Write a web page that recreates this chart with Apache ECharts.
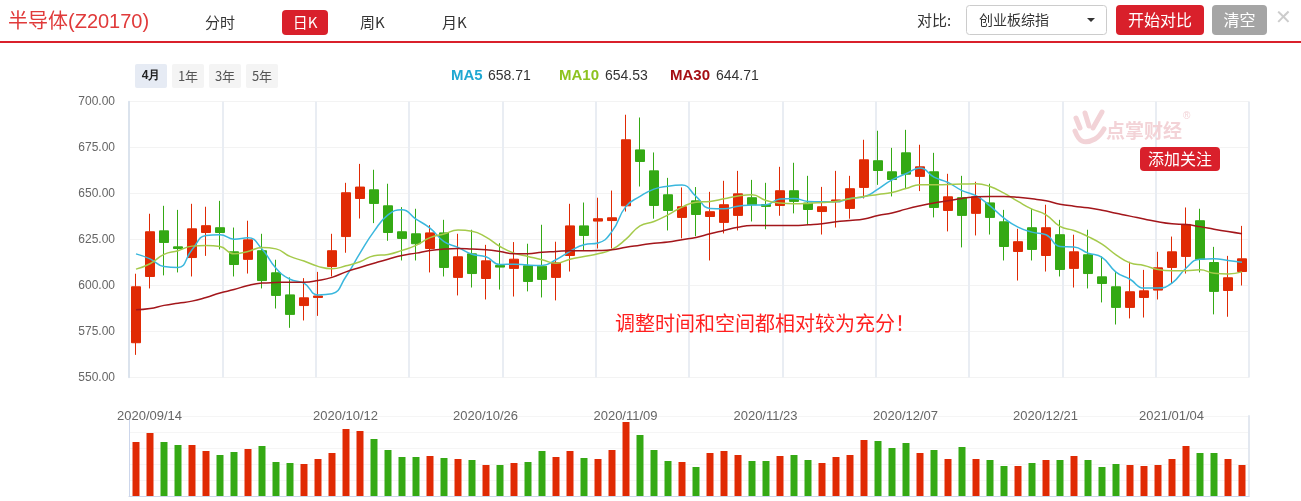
<!DOCTYPE html>
<html>
<head>
<meta charset="utf-8">
<title>半导体(Z20170) 日K</title>
<script src="https://cdn.jsdelivr.net/npm/echarts@6/dist/echarts.min.js"></script>
<style>
html, body { margin: 0; padding: 0; background: #fff; }
#chart { width: 1301px; height: 501px; }
</style>
</head>
<body>
<div id="chart"></div>
<script>
// trading days shown on the chart
const DATES = [
  '2020/09/14','2020/09/15','2020/09/16','2020/09/17','2020/09/18',
  '2020/09/21','2020/09/22','2020/09/23','2020/09/24','2020/09/25',
  '2020/09/28','2020/09/29','2020/09/30','2020/10/09',
  '2020/10/12','2020/10/13','2020/10/14','2020/10/15','2020/10/16',
  '2020/10/19','2020/10/20','2020/10/21','2020/10/22','2020/10/23',
  '2020/10/26','2020/10/27','2020/10/28','2020/10/29','2020/10/30',
  '2020/11/02','2020/11/03','2020/11/04','2020/11/05','2020/11/06',
  '2020/11/09','2020/11/10','2020/11/11','2020/11/12','2020/11/13',
  '2020/11/16','2020/11/17','2020/11/18','2020/11/19','2020/11/20',
  '2020/11/23','2020/11/24','2020/11/25','2020/11/26','2020/11/27',
  '2020/11/30','2020/12/01','2020/12/02','2020/12/03','2020/12/04',
  '2020/12/07','2020/12/08','2020/12/09','2020/12/10','2020/12/11',
  '2020/12/14','2020/12/15','2020/12/16','2020/12/17','2020/12/18',
  '2020/12/21','2020/12/22','2020/12/23','2020/12/24','2020/12/25',
  '2020/12/28','2020/12/29','2020/12/30','2020/12/31',
  '2021/01/04','2021/01/05','2021/01/06','2021/01/07','2021/01/08',
  '2021/01/11','2021/01/12'
];
const LABEL_DATES = ['2020/09/14','2020/10/12','2020/10/26','2020/11/09','2020/11/23','2020/12/07','2020/12/21','2021/01/04'];

// [open, close, low, high]
const KLINE = [
  [568.9,599.3,562.3,606.4],[604.9,629.2,598.4,639.0],[629.7,623.4,605.5,643.3],[621.0,620.1,607.1,641.1],
  [615.2,630.8,604.9,644.4],[628.8,632.5,616.1,642.8],[631.4,628.8,619.6,646.0],[618.3,611.4,604.9,631.5],
  [614.2,624.8,606.5,635.2],[618.9,602.7,598.4,628.1],[606.9,594.6,587.5,614.0],[594.9,584.3,577.0,604.4],
  [589.1,593.3,581.0,604.0],[593.5,594.3,583.5,607.4],[610.3,618.9,604.9,628.1],[626.6,650.4,617.8,655.8],
  [647.3,653.5,636.4,666.1],[652.0,644.6,633.9,662.9],[643.3,628.8,624.3,655.3],[629.2,625.6,613.6,642.6],
  [628.1,622.7,613.6,641.7],[620.1,628.6,607.1,632.8],[628.6,609.8,604.9,635.7],[604.4,615.6,594.6,628.1],
  [617.2,606.5,598.9,630.3],[603.8,613.4,592.4,622.1],[610.9,610.0,597.8,623.0],[609.3,614.3,594.0,623.6],
  [610.7,602.2,596.8,622.7],[610.5,603.3,593.5,633.0],[604.4,612.3,591.9,623.8],[616.3,632.4,607.6,644.4],
  [632.4,627.2,618.9,645.1],[635.0,636.3,620.1,647.7],[635.3,636.8,620.1,651.6],[643.3,679.2,640.2,692.8],
  [673.7,667.4,653.8,691.3],[662.3,643.5,636.3,672.3],[649.3,640.8,629.9,658.5],[637.0,642.8,625.6,653.3],
  [646.0,638.6,626.8,653.5],[637.5,640.1,613.6,650.9],[634.3,643.9,628.3,656.9],[638.1,649.8,629.9,662.3],
  [647.7,643.9,634.8,657.4],[644.0,643.0,630.6,655.8],[643.5,651.5,637.9,664.5],[651.5,645.7,639.2,666.7],
  [644.8,641.3,632.8,659.6],[640.2,642.8,627.7,653.6],[645.5,646.5,631.5,662.3],[641.9,652.6,636.3,659.6],
  [653.3,668.3,647.3,679.2],[667.8,662.5,654.7,684.1],[661.8,657.6,648.4,674.8],[672.1,660.5,652.4,684.6],
  [659.3,664.5,651.3,676.5],[661.8,642.4,637.0,672.1],[640.8,648.2,629.4,660.7],[647.7,638.1,620.7,659.6],
  [639.2,648.2,627.2,656.4],[644.9,637.0,627.7,655.3],[634.6,621.2,613.6,641.1],[618.5,623.8,602.7,630.8],
  [631.4,619.6,613.6,641.7],[616.3,631.4,607.6,643.9],[627.6,608.7,604.9,635.7],[609.3,618.3,598.9,627.6],
  [616.7,606.5,598.4,630.3],[604.7,601.1,590.8,615.8],[599.3,588.1,578.8,607.4],[588.1,596.6,582.1,612.9],
  [593.5,597.1,582.6,608.5],[597.5,609.6,592.4,618.3],[609.8,618.3,601.1,626.6],[615.8,633.2,606.5,642.4],
  [635.2,614.2,607.1,641.7],[612.5,596.8,584.3,621.0],[597.3,604.2,583.0,616.1],[607.6,614.5,600.0,632.4]
];

const VOLUME = [
  54,63,54,51,51,45,41,44,47,50, 34,33,32,37,43,67,65,57,46,39,
  39,40,38,37,36,31,31,33,34,45, 39,45,38,37,46,74,61,46,35,34,
  29,43,45,41,35,35,40,41,36,33, 39,41,56,55,48,53,43,46,37,49,
  37,36,30,30,33,36,36,40,36,29, 32,31,30,31,37,50,43,43,37,31
];

const MA5 = [
  617.2,614.5,610.3,609.8,619.4,627.2,627.6,625.2,625.9,619.8,
  609.4,603.4,601.3,594.9,595.5,604.9,617.6,629.4,638.4,641.2,
  636.1,631.2,623.9,620.7,617.0,615.6,611.4,611.6,611.1,610.9,
  614.0,618.5,622.2,623.1,629.4,643.0,648.4,652.4,654.0,654.6,
  648.4,641.9,641.7,643.1,643.7,643.9,647.0,647.3,645.7,645.5,
  645.5,647.3,648.2,652.4,657.4,660.7,663.8,658.9,656.0,651.6,
  648.8,643.3,636.6,631.7,629.0,627.6,621.2,620.9,617.6,615.3,
  607.3,603.4,598.6,598.6,601.3,609.4,614.3,614.5,613.6,612.7
];
const MA10 = [
  608.9,611.8,616.9,618.9,621.4,621.8,621.2,617.2,618.5,620.7,
  619.9,615.8,613.3,610.4,609.1,610.7,612.9,616.2,616.9,619.1,
  621.8,626.0,628.0,630.1,629.5,626.3,621.2,617.6,615.8,614.0,
  612.1,614.3,615.8,617.2,619.6,625.2,632.4,634.8,638.4,642.6,
  645.3,645.7,647.1,648.6,649.3,646.2,644.8,644.4,644.6,645.1,
  645.7,647.2,648.4,649.5,650.6,652.7,654.7,654.7,654.9,655.1,
  655.3,653.8,650.2,645.7,641.5,638.4,632.1,629.9,626.6,622.5,
  616.7,612.3,610.9,608.7,608.0,608.0,608.5,606.7,606.3,607.4
];
const MA30 = [
  586.8,587.5,589.2,590.4,591.5,593.5,595.9,597.8,600.0,601.3,
  601.6,601.8,601.8,602.7,604.4,607.4,609.8,612.1,614.3,616.3,
  617.6,619.0,619.8,620.1,619.8,619.4,618.5,617.3,617.3,618.1,
  618.5,618.9,618.9,619.0,619.4,620.8,621.9,623.0,623.6,624.9,
  626.1,628.1,629.9,631.7,632.6,632.6,632.6,632.6,633.0,633.5,
  634.6,635.3,636.1,638.1,639.4,641.5,643.3,644.8,646.0,647.3,
  648.2,648.4,648.4,648.0,647.1,646.0,644.2,643.1,642.2,640.9,
  639.3,637.7,636.2,634.6,633.5,633.1,632.0,630.6,629.3,628.1
];
const MA_LEGEND = ['658.71', '654.53', '644.71'];

const PRICE_MIN = 550;
const PRICE_MAX = 700;
const PRICE_STEP = 25;

const UP = '#e02a04';
const DOWN = '#34a914';
const RED = '#d9202b';
const NUM_FONT = '"Liberation Sans", Arial, "Noto Sans CJK SC", sans-serif';
const CJK_FONT = '"Noto Sans CJK SC", "Liberation Sans", sans-serif';

const chart = echarts.init(document.getElementById('chart'));

function label(x, y, text, size, color, extra) {
    return Object.assign({
        type: 'text', x: x, y: y, z: 10,
        style: Object.assign({
            text: text, fill: color, textVerticalAlign: 'middle',
            font: size + 'px ' + CJK_FONT
        }, extra || {})
    });
}

function button(x, y, w, h, fill, text, size) {
    return [
        { type: 'rect', z: 9, shape: { x: x, y: y, width: w, height: h, r: 4 }, style: { fill: fill } },
        label(x + w / 2, y + h / 2, text, size, '#fff', { textAlign: 'center' })
    ];
}

const graphics = [].concat(
    label(8, 22, '半导体(Z20170)', 20, '#e03a3a', { font: '20px ' + NUM_FONT }),
    label(205, 22, '分时', 15, '#333'),
    button(282, 10, 46, 25, RED, '日K', 15),
    label(360, 22, '周K', 15, '#333'),
    label(442, 22, '月K', 15, '#333'),
    label(917, 20, '对比:', 15, '#333'),
    { type: 'rect', z: 9, shape: { x: 966.5, y: 5.5, width: 140, height: 29, r: 3 }, style: { fill: '#fff', stroke: '#cccccc' } },
    label(979, 20, '创业板综指', 14, '#333'),
    { type: 'polygon', z: 10, shape: { points: [[1087, 18], [1095, 18], [1091, 22]] }, style: { fill: '#333' } },
    button(1116, 5, 88, 30, RED, '开始对比', 16),
    button(1212, 5, 55, 30, '#a5a5a5', '清空', 16),
    label(1283, 18, '✕', 20, '#cccccc', { textAlign: 'center', font: '20px ' + NUM_FONT }),
    { type: 'rect', z: 9, shape: { x: 0, y: 41, width: 1301, height: 2 }, style: { fill: RED } },

    // period tabs
    { type: 'rect', z: 9, shape: { x: 135, y: 64, width: 32, height: 24, r: 2 }, style: { fill: '#e6ebf4' } },
    label(151, 76, '4月', 13, '#222', { textAlign: 'center', fontWeight: 'bold', font: 'bold 13px ' + CJK_FONT }),
    { type: 'rect', z: 9, shape: { x: 172, y: 64, width: 32, height: 24, r: 2 }, style: { fill: '#f4f4f4' } },
    label(188, 76, '1年', 13, '#555', { textAlign: 'center' }),
    { type: 'rect', z: 9, shape: { x: 209, y: 64, width: 32, height: 24, r: 2 }, style: { fill: '#f4f4f4' } },
    label(225, 76, '3年', 13, '#555', { textAlign: 'center' }),
    { type: 'rect', z: 9, shape: { x: 246, y: 64, width: 32, height: 24, r: 2 }, style: { fill: '#f4f4f4' } },
    label(262, 76, '5年', 13, '#555', { textAlign: 'center' }),

    // MA legend
    label(451, 76, 'MA5', 15, '#1fa8d2', { font: 'bold 15px ' + NUM_FONT }),
    label(488, 76, MA_LEGEND[0], 14, '#333', { font: '14px ' + NUM_FONT }),
    label(559, 76, 'MA10', 15, '#8dc21f', { font: 'bold 15px ' + NUM_FONT }),
    label(605, 76, MA_LEGEND[1], 14, '#333', { font: '14px ' + NUM_FONT }),
    label(670, 76, 'MA30', 15, '#a50f14', { font: 'bold 15px ' + NUM_FONT }),
    label(716, 76, MA_LEGEND[2], 14, '#333', { font: '14px ' + NUM_FONT }),

    // watermark
    { type: 'polyline', z: 2, shape: { points: [[1076, 118], [1080, 128]] }, style: { stroke: '#f2d3d7', lineWidth: 5, lineCap: 'round' } },
    { type: 'polyline', z: 2, shape: { points: [[1085, 113], [1089, 126]] }, style: { stroke: '#f2d3d7', lineWidth: 5, lineCap: 'round' } },
    { type: 'polyline', z: 2, shape: { points: [[1102, 112], [1093, 128]] }, style: { stroke: '#f2d3d7', lineWidth: 5, lineCap: 'round' } },
    { type: 'polyline', z: 2, shape: { points: [[1075, 131], [1082, 141], [1095, 139], [1104, 129]], smooth: 0.4 }, style: { stroke: '#f2d3d7', lineWidth: 5, lineCap: 'round', fill: null } },
    label(1106, 131, '点掌财经', 19, '#f3d3d7', { font: 'bold 19px ' + CJK_FONT }),
    label(1183, 116, '®', 10, '#f3d3d7', { font: '10px ' + NUM_FONT }),

    button(1140, 147, 80, 24, RED, '添加关注', 16),
    label(615, 323, '调整时间和空间都相对较为充分！', 20, '#ff1f1f')
);

chart.setOption({
    animation: false,
    backgroundColor: '#fff',
    grid: [
        { left: 129, right: 52, top: 101.5, height: 276 },
        { left: 129, right: 52, top: 416, height: 80 }
    ],
    xAxis: [
        {
            type: 'category', gridIndex: 0, data: DATES, boundaryGap: true,
            axisLine: { show: false }, axisTick: { show: false },
            axisLabel: {
                interval: (idx) => LABEL_DATES.includes(DATES[idx]),
                margin: 32, color: '#666', fontSize: 13, fontFamily: NUM_FONT,
                padding: [0, 0, 0, 27]
            },
            splitLine: { show: false }
        },
        {
            type: 'value', gridIndex: 0, min: 0, max: 12, interval: 1,
            axisLine: { show: false }, axisTick: { show: false }, axisLabel: { show: false },
            splitLine: { show: true, lineStyle: { color: '#e9edf3', width: 2 } }
        },
        {
            type: 'category', gridIndex: 1, data: DATES, boundaryGap: true,
            axisLine: { show: true, lineStyle: { color: '#ccd6eb' } },
            axisTick: { show: false }, axisLabel: { show: false }, splitLine: { show: false }
        }
    ],
    yAxis: [
        {
            type: 'value', gridIndex: 0, min: PRICE_MIN, max: PRICE_MAX, interval: PRICE_STEP,
            axisLine: { show: true, lineStyle: { color: '#d6dfeb', width: 1.5 } },
            axisTick: { show: false },
            axisLabel: { color: '#666', fontSize: 12, fontFamily: NUM_FONT, margin: 14, formatter: (v) => v.toFixed(2) },
            splitLine: { lineStyle: { color: '#f3f3f3' } }
        },
        {
            type: 'value', gridIndex: 1, min: 0, max: 80, interval: 16,
            axisLine: { show: true, lineStyle: { color: '#ccd6eb' } },
            axisTick: { show: false }, axisLabel: { show: false },
            splitLine: { lineStyle: { color: '#f5f5f5' } }
        },
        {
            type: 'value', gridIndex: 1, position: 'right', min: 0, max: 80,
            axisLine: { show: true, lineStyle: { color: '#e3e8f0', width: 2 } },
            axisTick: { show: false }, axisLabel: { show: false }, splitLine: { show: false }
        }
    ],
    series: [
        {
            type: 'candlestick', xAxisIndex: 0, yAxisIndex: 0, data: KLINE, barWidth: 9,
            itemStyle: { color: UP, color0: DOWN, borderColor: UP, borderColor0: DOWN, borderWidth: 1 }
        },
        {
            type: 'line', name: 'MA5', xAxisIndex: 0, yAxisIndex: 0, data: MA5, smooth: true,
            showSymbol: false, lineStyle: { color: '#3ab7dd', width: 1.5 }
        },
        {
            type: 'line', name: 'MA10', xAxisIndex: 0, yAxisIndex: 0, data: MA10, smooth: true,
            showSymbol: false, lineStyle: { color: '#a5ca4b', width: 1.5 }
        },
        {
            type: 'line', name: 'MA30', xAxisIndex: 0, yAxisIndex: 0, data: MA30, smooth: true,
            showSymbol: false, lineStyle: { color: '#a3161b', width: 1.5 }
        },
        {
            type: 'bar', name: '成交量', xAxisIndex: 2, yAxisIndex: 1, data: VOLUME, barWidth: 7,
            itemStyle: {
                color: (p) => KLINE[p.dataIndex][1] >= KLINE[p.dataIndex][0] ? UP : DOWN
            }
        }
    ],
    graphic: graphics
});
</script>
</body>
</html>
